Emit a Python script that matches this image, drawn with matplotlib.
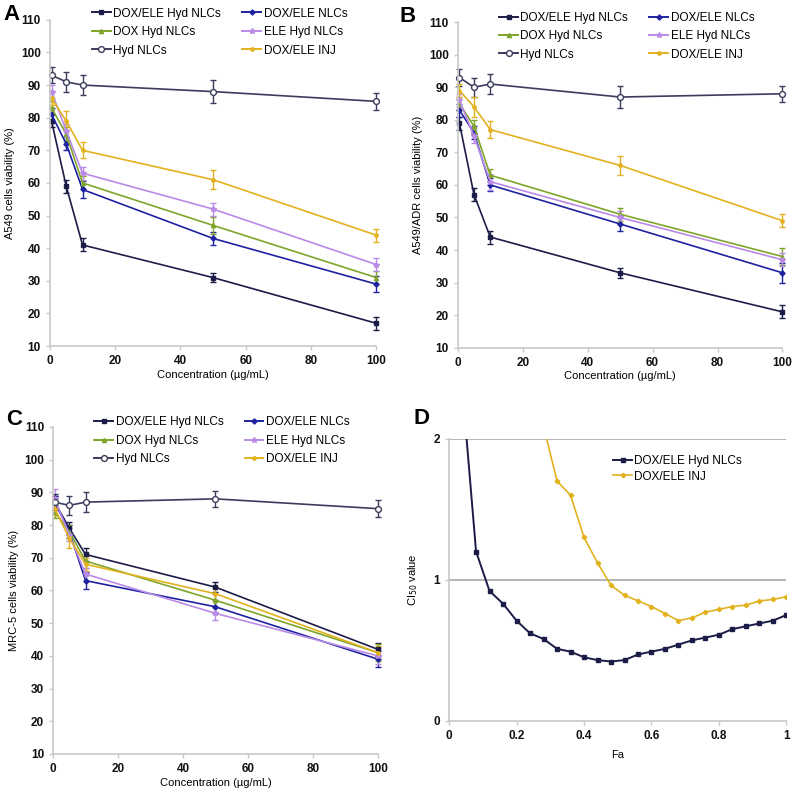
import numpy as np
import matplotlib
matplotlib.use("Agg")
import matplotlib.pyplot as plt
from matplotlib.lines import Line2D

plt.rcParams['font.family'] = ['Liberation Sans', 'DejaVu Sans']

# concentrations (ug/mL)
conc = [0.5, 5, 10, 50, 100]

names = ["DOX/ELE Hyd NLCs", "DOX/ELE NLCs", "DOX Hyd NLCs",
         "ELE Hyd NLCs", "Hyd NLCs", "DOX/ELE INJ"]

# panel A - A549
a_vals = [[79, 59, 41, 31, 17],
          [81, 72, 58, 43, 29],
          [83, 75, 60, 47, 31],
          [88, 76, 63, 52, 35],
          [93, 91, 90, 88, 85],
          [86, 79, 70, 61, 44]]
a_err = [[2, 2, 2, 1.5, 2],
         [2, 2, 2.5, 2, 2.5],
         [2, 2, 2, 2.5, 2],
         [2, 2, 2, 2, 2],
         [2.5, 3, 3, 3.5, 2.5],
         [2, 3, 2.5, 3, 2]]

# panel B - A549/ADR
b_vals = [[79, 57, 44, 33, 21],
          [83, 76, 60, 48, 33],
          [85, 78, 63, 51, 38],
          [86, 75, 61, 50, 37],
          [93, 90, 91, 87, 88],
          [89, 84, 77, 66, 49]]
b_err = [[2, 2, 2, 1.5, 2],
         [2, 2, 2, 2, 3],
         [2, 2, 2, 2, 2.5],
         [2, 2, 2.5, 2, 2],
         [2.5, 3, 3, 3.5, 2.5],
         [2, 3, 2.5, 3, 2]]

# panel C - MRC-5
c_vals = [[87, 79, 71, 61, 42],
          [87, 78, 63, 55, 39],
          [84, 78, 69, 57, 41],
          [88, 77, 65, 53, 40],
          [87, 86, 87, 88, 85],
          [85, 76, 68, 59, 41]]
c_err = [[2, 2, 2, 1.5, 2],
         [2, 2, 2.5, 2, 2.5],
         [2, 2, 2, 2, 2.5],
         [3, 2, 2, 2, 2.5],
         [2.5, 3, 3, 2.5, 2.5],
         [2, 3, 2, 2, 2]]

# panel D - combination index
fa_hyd = [0.04, 0.08, 0.12, 0.16, 0.20, 0.24, 0.28, 0.32, 0.36, 0.40, 0.44, 0.48,
          0.52, 0.56, 0.60, 0.64, 0.68, 0.72, 0.76, 0.80, 0.84, 0.88, 0.92, 0.96, 1.00]
ci_hyd = [2.34, 1.20, 0.92, 0.83, 0.71, 0.62, 0.58, 0.51, 0.49, 0.45, 0.43, 0.42,
          0.43, 0.47, 0.49, 0.51, 0.54, 0.57, 0.59, 0.61, 0.65, 0.67, 0.69, 0.71, 0.75]
fa_inj = [0.28, 0.32, 0.36, 0.40, 0.44, 0.48, 0.52, 0.56, 0.60, 0.64, 0.68, 0.72,
          0.76, 0.80, 0.84, 0.88, 0.92, 0.96, 1.00]
ci_inj = [2.09, 1.70, 1.60, 1.30, 1.12, 0.96, 0.89, 0.85, 0.81, 0.76, 0.71, 0.73,
          0.77, 0.79, 0.81, 0.82, 0.85, 0.86, 0.88]

colors = ["#1c1c48", "#1e22a0", "#7ea52a", "#b98ae6", "#3c3c5e", "#e2b21e"]
markers = ["s", "D", "^", "*", "o", "o"]
msizes = [3.2, 2.6, 3, 3.8, 4.2, 2.4]
spine_c = "#c8c8c8"

fig = plt.figure(figsize=(7.92, 7.92), dpi=100)


def style_axes(ax):
    for s in ["top", "right"]:
        ax.spines[s].set_visible(False)
    for s in ["left", "bottom"]:
        ax.spines[s].set_color(spine_c)
        ax.spines[s].set_linewidth(1.2)
    ax.tick_params(colors=spine_c, labelcolor="#111111", length=3, width=1,
                   labelsize=8.5)
    for lab in ax.get_xticklabels() + ax.get_yticklabels():
        lab.set_fontweight("bold")


def viability_panel(rect, vals, errs, ylabel, letter, letter_xy, leg_y):
    ax = fig.add_axes(rect)
    handles = []
    for i in range(6):
        mfc = "white" if i == 4 else colors[i]
        ax.errorbar(conc, vals[i], yerr=errs[i], color=colors[i], lw=1.2,
                    marker=markers[i], ms=msizes[i], mfc=mfc, mec=colors[i],
                    mew=1.0, capsize=2, elinewidth=1.0, capthick=1.0,
                    clip_on=False)
        handles.append(Line2D([], [], color=colors[i], lw=1.4, marker=markers[i],
                              ms=msizes[i], mfc=mfc, mec=colors[i], mew=1.0))
    ax.set_xlim(0, 100)
    ax.set_ylim(10, 110)
    ax.set_xticks(range(0, 101, 20))
    ax.set_yticks(range(10, 111, 10))
    ax.set_xlabel("Concentration (µg/mL)", fontsize=8, labelpad=2)
    ax.set_ylabel(ylabel, fontsize=8, labelpad=4)
    style_axes(ax)
    order = [0, 2, 4, 1, 3, 5]
    ax.legend([handles[k] for k in order], [names[k] for k in order], ncol=2,
              loc="upper center", bbox_to_anchor=(0.52, leg_y), frameon=False,
              fontsize=8.5, handlelength=1.6, handletextpad=0.2,
              columnspacing=1.8, labelspacing=0.55)
    fig.text(letter_xy[0], letter_xy[1], letter, fontsize=16,
             fontweight="bold", va="center")
    return ax


viability_panel([0.063, 0.563, 0.412, 0.412], a_vals, a_err,
                "A549 cells viability (%)", "A", (0.004, 0.982), 1.07)
viability_panel([0.578, 0.561, 0.410, 0.411], b_vals, b_err,
                "A549/ADR cells viability (%)", "B", (0.505, 0.979), 1.065)
viability_panel([0.067, 0.048, 0.410, 0.413], c_vals, c_err,
                "MRC-5 cells viability (%)", "C", (0.008, 0.470), 1.065)

# panel D
axd = fig.add_axes([0.567, 0.090, 0.426, 0.356])
for y in [1, 2]:
    axd.axhline(y, color="#a8a8a8", lw=1.2, zorder=0)
axd.plot(fa_hyd, ci_hyd, color="#1c1c48", lw=1.4, marker="s", ms=3.2,
         label="DOX/ELE Hyd NLCs")
axd.plot(fa_inj, ci_inj, color="#e2b21e", lw=1.2, marker="D", ms=2.3,
         label="DOX/ELE INJ")
axd.set_xlim(0, 1)
axd.set_ylim(0, 2)
axd.set_xticks([0, 0.2, 0.4, 0.6, 0.8, 1])
axd.set_xticklabels(["0", "0.2", "0.4", "0.6", "0.8", "1"])
axd.set_yticks([0, 1, 2])
axd.set_xlabel("Fa", fontsize=8, labelpad=6)
axd.set_ylabel(r"CI$_{50}$ value", fontsize=8, labelpad=10)
style_axes(axd)
axd.legend(loc="upper right", bbox_to_anchor=(0.9, 0.98), frameon=False,
           fontsize=8.5, handlelength=1.6, handletextpad=0.2, labelspacing=0.3)
fig.text(0.522, 0.472, "D", fontsize=16, fontweight="bold", va="center")

fig.savefig("out.png", dpi=100)
